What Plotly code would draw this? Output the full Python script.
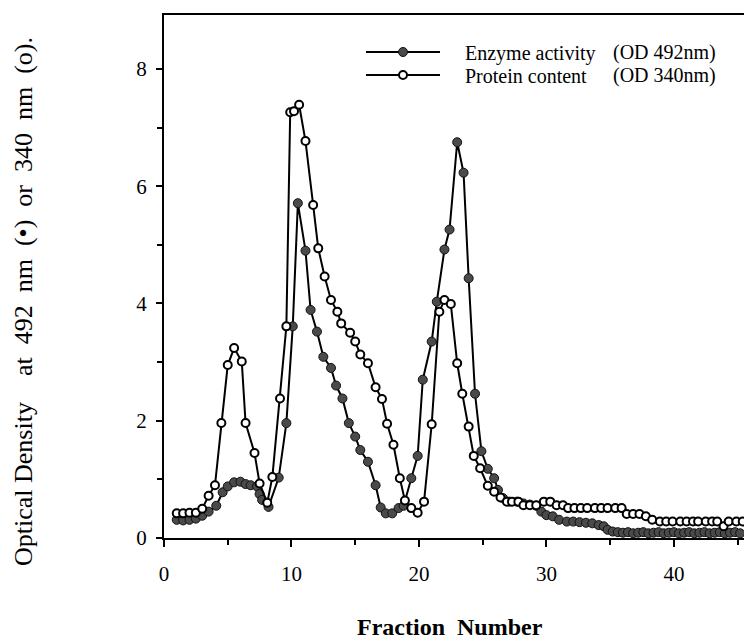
import plotly.graph_objects as go

# Protein content (open circles, OD 340 nm)
protein_x = [1.0, 1.5, 2.0, 2.5, 3.0, 3.5, 4.0, 4.5, 5.0, 5.5, 6.1, 6.4, 7.1, 7.5, 8.1, 8.5,
             9.1, 9.6, 9.9, 10.2, 10.6, 11.1, 11.7, 12.1, 12.6, 13.1, 13.6, 13.9, 14.6, 15.0,
             15.4, 16.0, 16.6, 17.1, 17.5, 18.0, 18.5, 18.9, 19.4, 19.9, 20.4, 21.0, 21.6, 22.0,
             22.5, 23.0, 23.4, 23.9, 24.3, 24.8, 25.4, 25.9, 26.4, 26.9, 27.3, 27.8, 28.2, 28.7,
             29.2, 29.8, 30.3, 30.8, 31.3, 31.7, 32.2, 32.7, 33.2, 33.8, 34.3, 34.8, 35.4, 35.9,
             36.3, 36.8, 37.3, 37.8, 38.3, 38.9, 39.4, 39.9, 40.5, 41.0, 41.5, 41.9, 42.5, 43.0,
             43.4, 43.9, 44.3, 44.9, 45.4]
protein_y = [0.42, 0.42, 0.43, 0.43, 0.50, 0.72, 0.90, 1.96, 2.95, 3.24, 3.01, 1.96, 1.45, 0.93,
             0.60, 1.04, 2.38, 3.61, 7.26, 7.28, 7.39, 6.77, 5.68, 4.94, 4.46, 4.06, 3.86, 3.66,
             3.50, 3.35, 3.13, 2.98, 2.57, 2.37, 1.95, 1.59, 1.02, 0.64, 0.51, 0.43, 0.62, 1.94,
             3.86, 4.06, 3.99, 2.98, 2.46, 1.90, 1.40, 1.19, 0.89, 0.79, 0.69, 0.62, 0.62, 0.62,
             0.56, 0.56, 0.56, 0.62, 0.62, 0.56, 0.56, 0.51, 0.51, 0.51, 0.51, 0.51, 0.51, 0.51,
             0.51, 0.51, 0.41, 0.41, 0.41, 0.37, 0.31, 0.28, 0.28, 0.28, 0.28, 0.28, 0.28, 0.28,
             0.28, 0.28, 0.28, 0.20, 0.28, 0.28, 0.28]

# Enzyme activity (filled circles, OD 492 nm)
enzyme_x = [1.0, 1.5, 2.0, 2.5, 3.0, 3.5, 4.1, 4.6, 5.0, 5.5, 6.0, 6.4, 6.8, 7.3, 7.5, 7.7,
            8.2, 9.0, 9.6, 10.1, 10.5, 11.1, 11.5, 12.0, 12.5, 13.1, 13.5, 14.0, 14.5, 15.0,
            15.4, 16.0, 16.6, 17.0, 17.4, 17.9, 18.4, 18.8, 19.4, 19.9, 20.3, 21.0, 21.4, 22.0,
            22.4, 23.0, 23.5, 23.9, 24.4, 24.9, 25.4, 25.9, 26.2, 26.6, 27.1, 27.7, 28.2, 28.7,
            29.2, 29.6, 30.0, 30.5, 31.0, 31.6, 32.1, 32.6, 33.1, 33.6, 34.1, 34.5, 34.8, 35.2,
            35.6, 36.0, 36.4, 36.8, 37.2, 37.6, 38.0, 38.4, 38.8, 39.2, 39.6, 40.0, 40.4, 40.8,
            41.2, 41.6, 42.0, 42.4, 42.8, 43.2, 43.6, 44.0, 44.4, 44.8, 45.2]
enzyme_y = [0.31, 0.30, 0.31, 0.33, 0.38, 0.45, 0.55, 0.78, 0.88, 0.95, 0.96, 0.92, 0.90, 0.88,
            0.75, 0.65, 0.53, 1.03, 1.96, 3.61, 5.71, 4.90, 3.89, 3.52, 3.09, 2.90, 2.60, 2.38,
            1.96, 1.73, 1.50, 1.30, 0.90, 0.52, 0.42, 0.42, 0.51, 0.55, 1.02, 1.40, 2.70, 3.35,
            4.03, 4.92, 5.26, 6.75, 6.23, 4.43, 2.46, 1.48, 1.18, 1.02, 0.82, 0.68, 0.62, 0.62,
            0.59, 0.57, 0.55, 0.45, 0.39, 0.37, 0.31, 0.28, 0.28, 0.27, 0.26, 0.25, 0.22, 0.20,
            0.14, 0.11, 0.10, 0.09, 0.10, 0.08, 0.09, 0.10, 0.08, 0.09, 0.10, 0.08, 0.09, 0.10,
            0.08, 0.09, 0.10, 0.08, 0.09, 0.10, 0.08, 0.09, 0.10, 0.08, 0.09, 0.10, 0.08]

x_major = [0, 10, 20, 30, 40]
y_major = [0, 2, 4, 6, 8]

SERIF = "Liberation Serif, Times New Roman, serif"
NB = "\u00a0"

# plot area geometry in pixels (for placing legend rows / annotations in paper units)
L, T, B = 164, 15, 105
PW = 744 - L
PH = 643 - T - B


def py(pix):
    return 1 - (pix - T) / PH


def px(pix):
    return (pix - L) / PW


ROW1, ROW2 = 52, 75

fig = go.Figure()
fig.add_trace(go.Scatter(
    x=enzyme_x, y=enzyme_y, mode="lines+markers",
    name=NB * 4 + "Enzyme activity", legend="legend",
    line=dict(color="black", width=2),
    marker=dict(symbol="circle", size=9, color="#4a4a4a", line=dict(color="#111", width=1)),
))
fig.add_trace(go.Scatter(
    x=protein_x, y=protein_y, mode="lines+markers",
    name=NB * 4 + "Protein content", legend="legend2",
    line=dict(color="black", width=2),
    marker=dict(symbol="circle", size=8, color="white", line=dict(color="black", width=2)),
))

leg_common = dict(x=px(361), xanchor="left", yanchor="middle", bgcolor="rgba(0,0,0,0)",
                  font=dict(family=SERIF, size=20), itemwidth=74)
fig.update_layout(
    width=744, height=643,
    margin=dict(l=L, r=0, t=T, b=B),
    paper_bgcolor="white", plot_bgcolor="white",
    font=dict(family=SERIF, color="black", size=21),
    showlegend=True,
    legend=dict(y=py(ROW1), **leg_common),
    legend2=dict(y=py(ROW2), **leg_common),
)
fig.update_xaxes(
    range=[0, 45.5], showgrid=False, zeroline=False,
    showline=True, linecolor="black", linewidth=2, mirror=True,
    ticks="outside", ticklen=7, tickwidth=2, tickcolor="black",
    tickvals=x_major, ticktext=[str(v) for v in x_major],
    minor=dict(tickvals=[5, 15, 25, 35, 45], ticks="outside", ticklen=5, tickwidth=2, tickcolor="black"),
    tickfont=dict(family=SERIF, size=21), ticklabelstandoff=9,
)
fig.update_yaxes(
    range=[0, 8.92], showgrid=False, zeroline=False,
    showline=True, linecolor="black", linewidth=2, mirror=False,
    ticks="outside", ticklen=6, tickwidth=2, tickcolor="black",
    tickvals=y_major, ticktext=[str(v) for v in y_major],
    minor=dict(tickvals=[1, 3, 5, 7, 9], ticks="outside", ticklen=5, tickwidth=2, tickcolor="black"),
    tickfont=dict(family=SERIF, size=21), ticklabelstandoff=5,
)

fig.add_annotation(text="(OD 492nm)", xref="paper", yref="paper", x=px(611), y=py(ROW1),
                   xanchor="left", yanchor="middle", showarrow=False,
                   font=dict(family=SERIF, size=20))
fig.add_annotation(text="(OD 340nm)", xref="paper", yref="paper", x=px(611), y=py(ROW2),
                   xanchor="left", yanchor="middle", showarrow=False,
                   font=dict(family=SERIF, size=20))
sp = NB * 2
ytitle = ("Optical Density" + NB * 4 + "at" + sp + "492" + sp + "nm" + sp + "(\u2022)" + sp +
          "or" + sp + "340" + sp + "nm" + sp + "(o).")
fig.add_annotation(text=ytitle,
                   xref="paper", yref="paper", x=px(23), y=py(302), textangle=-90,
                   xanchor="center", yanchor="middle", showarrow=False,
                   font=dict(family=SERIF, size=26))
fig.add_annotation(text="<b>Fraction" + NB * 2 + "Number</b>",
                   xref="paper", yref="paper", x=px(450), y=py(627),
                   xanchor="center", yanchor="middle", showarrow=False,
                   font=dict(family=SERIF, size=24))

fig.write_html("out.html")
